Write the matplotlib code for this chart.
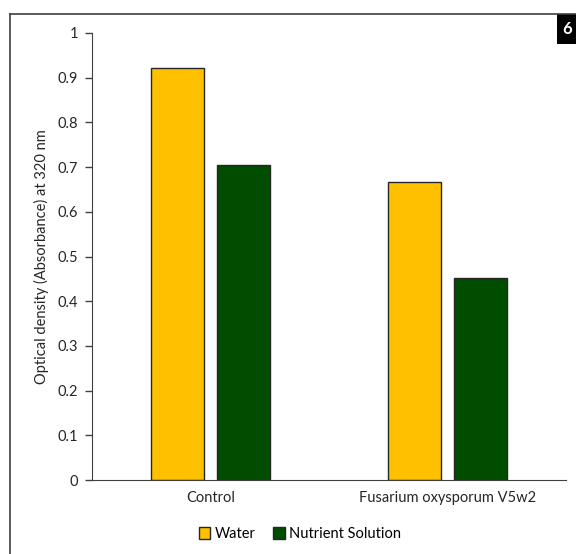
import matplotlib.pyplot as plt
import numpy as np
from matplotlib.lines import Line2D
from matplotlib.patches import Rectangle

plt.rcParams["font.family"] = ["Lato", "DejaVu Sans"]

categories = ["Control", "Fusarium oxysporum V5w2"]
water = [0.922, 0.666]
nutrient = [0.705, 0.451]
series_names = ["Water", "Nutrient Solution"]
colors = ["#FFC000", "#004D00"]
yticks = [0, 0.1, 0.2, 0.3, 0.4, 0.5, 0.6, 0.7, 0.8, 0.9, 1]
ytick_labels = ["0", "0.1", "0.2", "0.3", "0.4", "0.5", "0.6", "0.7", "0.8", "0.9", "1"]


def main() -> None:
    fig = plt.figure(figsize=(5.76, 5.54), dpi=100)
    ax = fig.add_axes([92 / 576, 74 / 554, 474 / 576, 447 / 554])

    x = np.arange(len(categories))
    width = 0.224
    off = 0.141
    ax.bar(x - off, water, width, color=colors[0], edgecolor="#262626", linewidth=1.0, label=series_names[0])
    ax.bar(x + off, nutrient, width, color=colors[1], edgecolor="#262626", linewidth=1.0, label=series_names[1])

    ax.set_xlim(-0.5, 1.5)
    ax.set_ylim(0, 1)
    ax.set_xticks(x)
    ax.set_xticklabels(categories, fontsize=10.5, color="#262626")
    ax.set_yticks(yticks)
    ax.set_yticklabels(ytick_labels, fontsize=10.5, color="#262626")
    ax.tick_params(axis="x", length=0, pad=8)
    ax.tick_params(axis="y", length=5, width=1, color="#404040", pad=5)
    ax.set_ylabel("Optical density (Absorbance) at 320 nm", fontsize=10.5, color="#262626", labelpad=6)

    for s in ["top", "right"]:
        ax.spines[s].set_visible(False)
    ax.spines["left"].set_color("#404040")
    ax.spines["bottom"].set_color("#404040")

    fig.legend(loc="center", bbox_to_anchor=(300 / 576, 1 - 534 / 554), ncol=2, frameon=False,
               fontsize=10.5, handlelength=0.8, handleheight=0.8, handletextpad=0.3, columnspacing=1.2)

    # outer frame of the panel
    fig.add_artist(Line2D([10 / 576, 10 / 576], [0, 1 - 14 / 554], transform=fig.transFigure,
                          color="#404040", linewidth=1.2))
    fig.add_artist(Line2D([10 / 576, 1], [1 - 14 / 554, 1 - 14 / 554], transform=fig.transFigure,
                          color="#404040", linewidth=1.2))
    fig.add_artist(Rectangle((557 / 576, 1 - 44 / 554), 19 / 576, 30 / 554, transform=fig.transFigure,
                             facecolor="black", edgecolor="none"))
    fig.text(567 / 576, 1 - 29 / 554, "6", color="white", fontsize=12, fontweight="bold",
             ha="center", va="center")

    fig.savefig("out.png", dpi=100)


if __name__ == "__main__":
    main()
